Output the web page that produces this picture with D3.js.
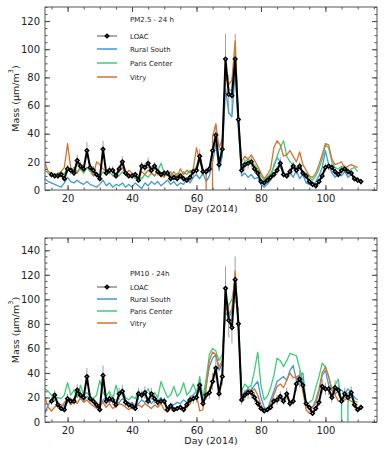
<!DOCTYPE html>
<html>
<head>
<meta charset="utf-8">
<script src="https://cdn.jsdelivr.net/npm/d3@7"></script>
<style>
  body { margin: 0; background: #fff; }
  svg text { font-family: "DejaVu Sans", sans-serif; fill: #222; }
</style>
</head>
<body>
<div id="chart"></div>
<script>
// ---- data ----
// station series run day 13..110, LOAC runs day 15..111, -999 = missing value
const stationFirstDay = 13;
const loacFirstDay = 15;

const pm25Loac = [
  11,10,10,11,8,15,14,12,21,17, 15,28,16,14,11,8,29,12,14,14,
  10,15,20,12,10,10,11,7,17,16, 19,14,17,13,11,12,12,8,9,8,
  10,8,7,9,13,14,24,13,13,15, 28,39,18,29,93,68,67,93,50,14,
  18,19,20,15,12,6,5,7,9,11, 14,19,11,10,13,17,14,17,12,10,
  6,4,3,6,10,16,17,16,13,11, 14,15,13,12,8,7,6];
const pm25LoacErr = [
  2,2,2,2,2,3,3,2,4,3, 3,6,3,3,2,2,6,2,3,3,
  2,3,4,2,2,2,2,2,3,3, 4,3,3,3,2,2,2,2,2,2,
  2,2,2,2,3,3,5,3,3,3, 6,8,4,6,18,14,13,18,10,3,
  4,4,4,3,2,2,2,2,2,2, 3,4,2,2,3,3,3,3,2,2,
  2,2,2,2,2,3,3,3,3,2, 3,3,3,2,2,2,2];
const pm25RuralSouth = [
  8,6,5,4,3,2,5,9,6,5, 7,5,4,6,4,3,2,4,7,3,
  5,2,4,3,5,2,4,2,5,3, 1,5,3,6,4,6,3,5,7,4,
  6,3,5,4,8,5,9,11,8,12, 6,10,20,33,14,24,72,55,52,85,
  44,10,12,9,11,8,9,4,2,4, 7,18,23,20,13,9,13,9,14,8,
  11,5,4,3,6,10,16,28,18,12, 9,11,10,13,9,11,8,9];
const pm25ParisCenter = [
  14,12,10,11,12,13,11,17,14,16, 13,15,12,16,13,10,11,9,13,11,
  13,10,12,10,13,11,9,11,8,10, 8,11,9,12,10,14,19,12,10,13,
  9,12,10,13,11,14,13,17,25,13, 12,14,27,37,21,30,85,72,70,100,
  48,17,20,22,20,18,15,10,7,9, 12,16,24,30,35,24,20,18,15,17,
  13,11,9,7,10,15,22,32,30,20, 16,15,17,14,12,15,16,13];
const pm25Vitry = [
  19,13,12,10,11,13,16,33,15,14, 12,17,14,16,15,10,20,18,15,13,
  15,14,10,13,16,11,14,12,10,8, 13,11,14,12,10,14,11,9,14,10,
  13,9,15,11,14,12,15,30,20,14, 12,-999,38,47,30,36,80,75,78,106,
  50,20,24,22,25,21,17,12,8,11, 15,30,35,32,24,25,28,24,20,27,
  18,14,10,9,12,18,25,33,32,22, 18,19,20,15,17,18,17,16];

const pm10Loac = [
  17,22,14,11,10,19,17,17,26,22, 20,37,19,17,14,10,38,17,19,18,
  14,23,25,16,14,13,11,23,22,24, 17,23,19,16,17,17,10,13,10,11,
  12,10,14,18,19,20,30,15,22,24, 33,44,23,37,109,83,77,116,80,18,
  22,24,24,20,15,11,9,10,12,17, 18,21,17,23,15,17,31,35,30,15,
  12,7,11,16,29,27,27,20,28,26, 17,23,20,24,14,10,12];
const pm10LoacErr = [
  3,4,3,2,2,4,3,3,5,4, 4,7,4,3,3,2,8,3,4,4,
  3,5,5,3,3,3,2,5,4,5, 3,5,4,3,3,3,2,3,2,2,
  2,2,3,4,4,4,6,3,4,5, 7,9,5,7,18,14,13,19,14,4,
  4,5,5,4,3,2,2,2,2,3, 4,4,3,5,3,3,6,7,6,3,
  2,2,2,3,6,5,5,4,6,5, 3,5,4,5,3,2,2];
const pm10RuralSouth = [
  7,14,18,20,15,14,13,20,17,19, 22,20,17,21,19,16,13,12,18,20,
  16,18,14,16,19,17,14,16,13,15, 18,16,19,15,18,17,20,15,12,15,
  14,16,15,18,16,20,22,25,28,14, 30,45,52,55,42,48,90,85,90,118,
  78,20,25,27,26,30,33,20,12,10, 18,25,33,35,37,34,42,46,34,38,
  40,15,10,12,15,25,38,42,30,26, 23,25,26,23,27,24,20,18];
const pm10ParisCenter = [
  27,25,22,17,20,19,22,32,22,26, 20,30,22,24,21,19,22,34,24,21,
  25,18,30,22,27,20,18,21,19,26, 20,23,27,21,24,20,33,26,20,22,
  29,21,24,32,22,25,31,24,37,20, 35,55,60,58,50,55,90,95,100,115,
  85,25,31,28,30,42,57,30,18,21, 28,38,52,50,45,50,56,55,54,44,
  32,14,16,18,28,37,48,45,37,27, 30,35,15,-999,16,22,17,16];
const pm10Vitry = [
  20,12,9,12,14,12,16,19,14,17, 15,20,16,18,15,13,11,14,16,12,
  15,11,13,15,14,12,10,12,11,14, 12,15,13,11,14,12,15,10,8,12,
  10,11,13,10,12,15,20,22,9,10, 28,50,57,55,45,50,95,88,92,123,
  80,20,24,26,25,27,22,14,8,10, 15,22,29,31,28,34,40,36,37,38,
  25,10,7,12,18,27,40,45,37,26, 22,17,17,18,19,17,15,14];

const xTicks = [20, 40, 60, 80, 100];
const pm25YTicks = [0, 20, 40, 60, 80, 100, 120];
const pm10YTicks = [0, 20, 40, 60, 80, 100, 120, 140];
const stationNames = ["Rural South", "Paris Center", "Vitry"];

// ---- layout / style ----
const width = 385, height = 454;
const plotLeft = 45, plotRight = 377;
const stationColors = ["#3c9ad6", "#3ccd7c", "#d6722f"];

const svg = d3.select("#chart").append("svg")
  .attr("width", width).attr("height", height);

function drawPanel(cfg) {
  const x = d3.scaleLinear().domain([13, 116]).range([plotLeft, plotRight]);
  const y = d3.scaleLinear().domain(cfg.yDomain).range([cfg.bottom, cfg.top]);

  const stationDays = cfg.stations[0].map((d, i) => stationFirstDay + i);
  const loacDays = cfg.loac.map((d, i) => loacFirstDay + i);

  svg.append("clipPath").attr("id", "clip-" + cfg.id)
    .append("rect")
    .attr("x", plotLeft).attr("y", cfg.top)
    .attr("width", plotRight - plotLeft).attr("height", cfg.bottom - cfg.top);

  const plot = svg.append("g").attr("clip-path", `url(#clip-${cfg.id})`);

  // LOAC error bars
  plot.append("g")
    .attr("stroke", "#a0a0a0")
    .attr("stroke-width", 1)
    .selectAll("line")
    .data(cfg.loac)
    .join("line")
    .attr("x1", (d, i) => x(loacDays[i]))
    .attr("x2", (d, i) => x(loacDays[i]))
    .attr("y1", (d, i) => y(d - cfg.err[i]))
    .attr("y2", (d, i) => y(d + cfg.err[i]));

  // station lines
  cfg.stations.forEach((values, k) => {
    plot.append("path")
      .datum(values)
      .attr("fill", "none")
      .attr("stroke", stationColors[k])
      .attr("stroke-width", 1.3)
      .attr("stroke-linejoin", "round")
      .attr("d", d3.line().x((d, i) => x(stationDays[i])).y(d => y(d)));
  });

  // LOAC line + diamonds
  plot.append("path")
    .datum(cfg.loac)
    .attr("fill", "none")
    .attr("stroke", "#000")
    .attr("stroke-width", 2)
    .attr("stroke-linejoin", "round")
    .attr("d", d3.line().x((d, i) => x(loacDays[i])).y(d => y(d)));

  plot.append("g")
    .selectAll("path")
    .data(cfg.loac)
    .join("path")
    .attr("d", d3.symbol(d3.symbolSquare, 6))
    .attr("transform", (d, i) => `translate(${x(loacDays[i])},${y(d)}) rotate(45)`)
    .attr("fill", "#fff")
    .attr("stroke", "#000")
    .attr("stroke-width", 1.6);

  // axes, IDL style: ticks inside on all four sides
  const minorX = d3.range(15, 116, 5);
  const minorY = d3.range(cfg.yDomain[0], cfg.yDomain[1] + 1, 5);
  const axes = [
    [d3.axisBottom(x), `translate(0,${cfg.bottom})`, xTicks, minorX, true],
    [d3.axisTop(x), `translate(0,${cfg.top})`, xTicks, minorX, false],
    [d3.axisLeft(y), `translate(${plotLeft},0)`, cfg.yTicks, minorY, true],
    [d3.axisRight(y), `translate(${plotRight},0)`, cfg.yTicks, minorY, false]
  ];
  axes.forEach(([axis, tr, major, minor, labels]) => {
    svg.append("g")
      .attr("transform", tr)
      .attr("color", "#555")
      .call(axis.tickValues(minor).tickSize(-2.5).tickFormat(""))
      .call(g => g.select(".domain").remove());
    svg.append("g")
      .attr("transform", tr)
      .attr("color", "#444")
      .attr("font-family", "DejaVu Sans, sans-serif")
      .attr("font-size", 9.5)
      .call(axis.tickValues(major).tickSize(-5).tickPadding(labels ? 5 : 0)
        .tickFormat(labels ? d3.format("d") : ""))
      .call(g => g.select(".domain").remove());
  });

  svg.append("rect")
    .attr("x", plotLeft).attr("y", cfg.top)
    .attr("width", plotRight - plotLeft).attr("height", cfg.bottom - cfg.top)
    .attr("fill", "none")
    .attr("stroke", "#555")
    .attr("stroke-width", 1);

  // axis titles
  svg.append("text")
    .attr("x", (plotLeft + plotRight) / 2)
    .attr("y", cfg.bottom + 22)
    .attr("text-anchor", "middle")
    .attr("font-size", 9.5)
    .text("Day (2014)");

  const yMid = (cfg.top + cfg.bottom) / 2;
  const ylab = svg.append("text")
    .attr("transform", `translate(15,${yMid}) rotate(-90)`)
    .attr("text-anchor", "middle")
    .attr("dominant-baseline", "central")
    .attr("font-size", 9.5);
  ylab.append("tspan").text("Mass (μm/m");
  ylab.append("tspan").attr("font-size", 6.5).attr("dy", -4).text("3");
  ylab.append("tspan").attr("dy", 4).text(")");

  // legend
  const lg = svg.append("g").attr("font-size", 7);
  lg.append("text").attr("x", 130).attr("y", cfg.legendTitleY + 2.5).text(cfg.title);
  const rows = ["LOAC", ...stationNames];
  rows.forEach((name, k) => {
    const ly = cfg.legendY[k];
    const color = k === 0 ? "#000" : stationColors[k - 1];
    lg.append("line")
      .attr("x1", 97).attr("x2", 117).attr("y1", ly).attr("y2", ly)
      .attr("stroke", k === 0 ? "#555" : color)
      .attr("stroke-width", k === 0 ? 1 : 1.5);
    if (k === 0) {
      lg.append("path")
        .attr("d", d3.symbol(d3.symbolSquare, 6))
        .attr("transform", `translate(107,${ly}) rotate(45)`)
        .attr("fill", "#fff").attr("stroke", "#000").attr("stroke-width", 1.6);
    }
    lg.append("text").attr("x", 130).attr("y", ly + 2.5).text(name);
  });
}

drawPanel({
  id: "pm25",
  top: 7, bottom: 190,
  yDomain: [0, 130],
  yTicks: pm25YTicks,
  loac: pm25Loac,
  err: pm25LoacErr,
  stations: [pm25RuralSouth, pm25ParisCenter, pm25Vitry],
  title: "PM2.5 - 24 h",
  legendTitleY: 19,
  legendY: [36, 49, 63, 77]
});

drawPanel({
  id: "pm10",
  top: 238, bottom: 422,
  yDomain: [0, 150],
  yTicks: pm10YTicks,
  loac: pm10Loac,
  err: pm10LoacErr,
  stations: [pm10RuralSouth, pm10ParisCenter, pm10Vitry],
  title: "PM10 - 24h",
  legendTitleY: 273,
  legendY: [287, 299, 311, 323]
});
</script>
</body>
</html>
